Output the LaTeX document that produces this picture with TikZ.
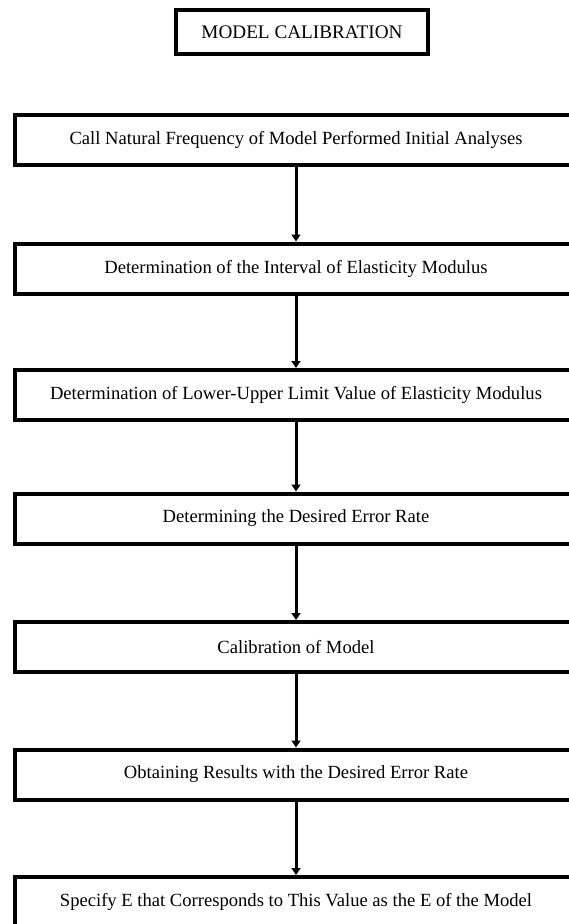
\documentclass[tikz,border=0pt]{standalone}
\usepackage{fontspec}
\setmainfont{Liberation Serif}
\usetikzlibrary{arrows.meta}
\begin{document}
\begin{tikzpicture}[x=1pt,y=-1pt,
  stepbox/.style={draw=black,line width=4pt,minimum width=562pt,minimum height=50pt,inner sep=0pt,font=\fontsize{18.6}{21}\selectfont},
  titlebox/.style={draw=black,line width=4pt,minimum width=252pt,minimum height=44pt,inner sep=0pt,font=\fontsize{19.2}{22}\selectfont},
  flow/.style={line width=3pt,-{Triangle[width=9pt,length=7pt]}}]
\path[use as bounding box,clip] (0,0) rectangle (569,924);
\node[titlebox] (t) at (302,32) {MODEL CALIBRATION};
\node[stepbox] (b1) at (296,140) {Call Natural Frequency of Model Performed Initial Analyses};
\node[stepbox] (b2) at (296,268.5) {Determination of the Interval of Elasticity Modulus};
\node[stepbox] (b3) at (296,395) {Determination of Lower-Upper Limit Value of Elasticity Modulus};
\node[stepbox] (b4) at (296,518.5) {Determining the Desired Error Rate};
\node[stepbox] (b5) at (296,647) {Calibration of Model};
\node[stepbox] (b6) at (296,774.5) {Obtaining Results with the Desired Error Rate};
\node[stepbox] (b7) at (296,902) {Specify E that Corresponds to This Value as the E of the Model};
\draw[flow] (b1.south) -- (b2.north);
\draw[flow] (b2.south) -- (b3.north);
\draw[flow] (b3.south) -- (b4.north);
\draw[flow] (b4.south) -- (b5.north);
\draw[flow] (b5.south) -- (b6.north);
\draw[flow] (b6.south) -- (b7.north);
\end{tikzpicture}
\end{document}
